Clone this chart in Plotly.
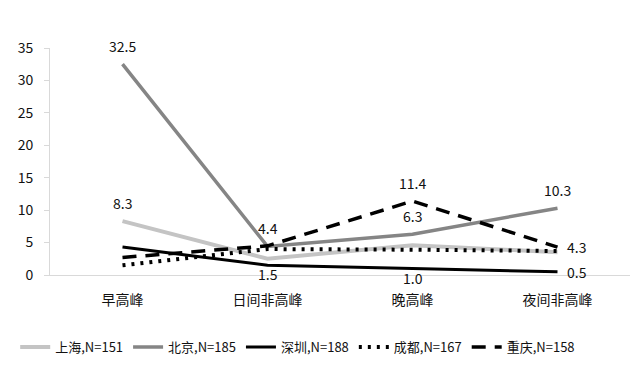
import plotly.graph_objects as go

categories = ["早高峰", "日间非高峰", "晚高峰", "夜间非高峰"]
shanghai = [8.3, 2.5, 4.6, 3.5]
beijing = [32.5, 4.4, 6.3, 10.3]
shenzhen = [4.3, 1.5, 1.0, 0.5]
chengdu = [1.5, 4.0, 3.9, 3.7]
chongqing = [2.7, 4.5, 11.4, 4.3]
names = ["上海,N=151", "北京,N=185", "深圳,N=188", "成都,N=167", "重庆,N=158"]

series = [shanghai, beijing, shenzhen, chengdu, chongqing]
styles = [
    dict(color="#c4c4c4", width=4, dash="solid"),
    dict(color="#858585", width=3.5, dash="solid"),
    dict(color="#000000", width=3, dash="solid"),
    dict(color="#000000", width=4, dash="3px,6px"),
    dict(color="#000000", width=3.5, dash="14px,9px"),
]

fig = go.Figure()
for vals, name, st in zip(series, names, styles):
    fig.add_trace(go.Scatter(x=categories, y=vals, mode="lines", name=name, line=st))

# data labels: (series, index, position)
labels = [
    (beijing, 0, "above"), (shanghai, 0, "above"),
    (beijing, 1, "above"), (shenzhen, 1, "below"),
    (chongqing, 2, "above"), (beijing, 2, "above"), (shenzhen, 2, "below"),
    (beijing, 3, "above"), (chongqing, 3, "right"), (shenzhen, 3, "right"),
]
for vals, i, pos in labels:
    v = vals[i]
    kw = dict(x=categories[i], y=v, text=f"{v:.1f}", showarrow=False,
              font=dict(size=14, color="#111111"))
    if pos == "above":
        kw.update(yshift=18)
    elif pos == "below":
        kw.update(yshift=-9)
    else:
        kw.update(xshift=19)
    fig.add_annotation(**kw)

fig.update_layout(
    width=635, height=373,
    margin=dict(l=50, r=5, t=48, b=98, autoexpand=False),
    paper_bgcolor="white", plot_bgcolor="white",
    font=dict(family="Noto Sans CJK SC", size=13, color="#111111"),
    showlegend=True,
    legend=dict(orientation="h", x=-0.06, xanchor="left", y=-0.317, yanchor="middle",
                font=dict(size=13), itemwidth=30, tracegroupgap=0),
)
fig.update_xaxes(range=[-0.5, 3.5], showline=True, linecolor="#d9d9d9", linewidth=1,
                 showgrid=False, ticks="outside", ticklen=12, tickcolor="rgba(0,0,0,0)",
                 tickfont=dict(size=14))
fig.update_yaxes(range=[0, 35], dtick=5, showline=True, linecolor="#d9d9d9", linewidth=1,
                 showgrid=False, ticks="outside", ticklen=5, tickcolor="#d9d9d9",
                 ticklabelstandoff=8, tickfont=dict(size=14), zeroline=False)

fig.write_html("out.html")
